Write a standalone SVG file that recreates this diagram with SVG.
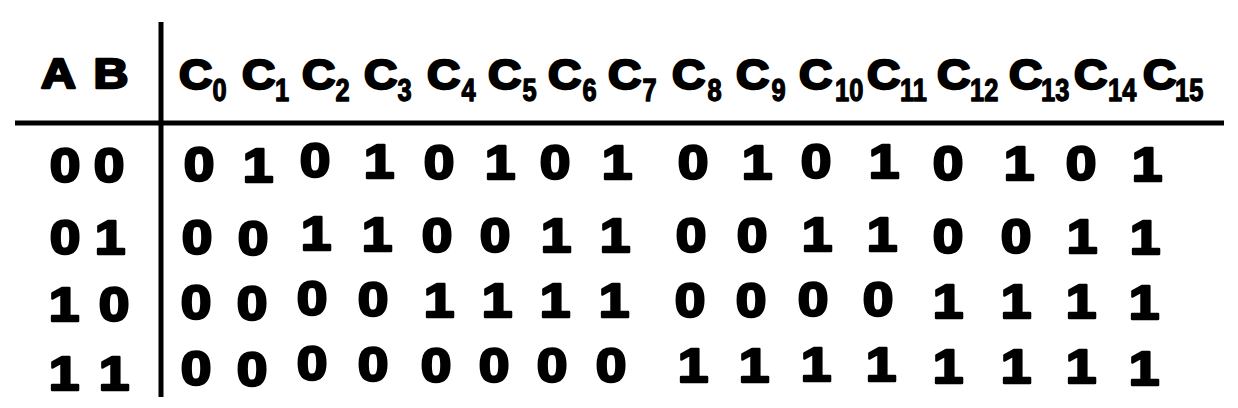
<svg xmlns="http://www.w3.org/2000/svg" width="1238" height="408" viewBox="0 0 1238 408">
<style>
text{font-family:"Liberation Sans",Arial,sans-serif;font-weight:bold;fill:#000;stroke:#000;stroke-linejoin:round}
.big{font-size:42px;stroke-width:2.4}
.sub{font-size:31px;stroke-width:1.3}
.d{font-size:48px;stroke-width:2.4;text-anchor:middle}
.rule{stroke:#000;stroke-width:5;fill:none}
</style>
<rect width="1238" height="408" fill="#fff"/>
<g id="lines">
<line class="rule" x1="161" y1="22" x2="161" y2="397"/>
<line class="rule" x1="15" y1="123" x2="1224" y2="123"/>
</g>
<g id="header">
<text class="big" transform="translate(41,88) scale(1.15,1)">A</text>
<text class="big" transform="translate(93.6,88) scale(1.15,1)">B</text>
<text class="big" transform="translate(179,88.5) scale(1.1,1)">C</text><text class="sub" transform="translate(212.5,101) scale(0.82,1)">0</text>
<text class="big" transform="translate(242,88.5) scale(1.1,1)">C</text><text class="sub" transform="translate(275,101) scale(0.82,1)">1</text>
<text class="big" transform="translate(302,88.5) scale(1.1,1)">C</text><text class="sub" transform="translate(335.5,101) scale(0.82,1)">2</text>
<text class="big" transform="translate(364,88.5) scale(1.1,1)">C</text><text class="sub" transform="translate(397.5,101) scale(0.82,1)">3</text>
<text class="big" transform="translate(427,88.5) scale(1.1,1)">C</text><text class="sub" transform="translate(461.5,101) scale(0.82,1)">4</text>
<text class="big" transform="translate(488,88.5) scale(1.1,1)">C</text><text class="sub" transform="translate(522.5,101) scale(0.82,1)">5</text>
<text class="big" transform="translate(548,88.5) scale(1.1,1)">C</text><text class="sub" transform="translate(582.5,101) scale(0.82,1)">6</text>
<text class="big" transform="translate(608,88.5) scale(1.1,1)">C</text><text class="sub" transform="translate(642.5,101) scale(0.82,1)">7</text>
<text class="big" transform="translate(672,88.5) scale(1.1,1)">C</text><text class="sub" transform="translate(707.5,101) scale(0.82,1)">8</text>
<text class="big" transform="translate(736,88.5) scale(1.1,1)">C</text><text class="sub" transform="translate(771.5,101) scale(0.82,1)">9</text>
<text class="big" transform="translate(799,88.5) scale(1.1,1)">C</text><text class="sub" transform="translate(835,101) scale(0.82,1)">10</text>
<text class="big" transform="translate(867,88.5) scale(1.1,1)">C</text><text class="sub" transform="translate(900,101) scale(0.82,1)">11</text>
<text class="big" transform="translate(937,88.5) scale(1.1,1)">C</text><text class="sub" transform="translate(970,101) scale(0.82,1)">12</text>
<text class="big" transform="translate(1009,88.5) scale(1.1,1)">C</text><text class="sub" transform="translate(1041,101) scale(0.82,1)">13</text>
<text class="big" transform="translate(1074,88.5) scale(1.1,1)">C</text><text class="sub" transform="translate(1108,101) scale(0.82,1)">14</text>
<text class="big" transform="translate(1143,88.5) scale(1.1,1)">C</text><text class="sub" transform="translate(1175,101) scale(0.82,1)">15</text>
</g>
<g id="row-00">
<text class="d" transform="translate(65,181.5) scale(1.15,1)">0</text>
<text class="d" transform="translate(109,181.5) scale(1.15,1)">0</text>
<text class="d" transform="translate(199,181) scale(1.15,1)">0</text>
<text class="d" transform="translate(258,182) scale(1.15,1)">1</text>
<text class="d" transform="translate(315,177) scale(1.15,1)">0</text>
<text class="d" transform="translate(379,178) scale(1.15,1)">1</text>
<text class="d" transform="translate(439,179) scale(1.15,1)">0</text>
<text class="d" transform="translate(500,179) scale(1.15,1)">1</text>
<text class="d" transform="translate(555,179) scale(1.15,1)">0</text>
<text class="d" transform="translate(617,179) scale(1.15,1)">1</text>
<text class="d" transform="translate(693,179) scale(1.15,1)">0</text>
<text class="d" transform="translate(757,179) scale(1.15,1)">1</text>
<text class="d" transform="translate(816,178) scale(1.15,1)">0</text>
<text class="d" transform="translate(884,178) scale(1.15,1)">1</text>
<text class="d" transform="translate(948,180) scale(1.15,1)">0</text>
<text class="d" transform="translate(1019,180) scale(1.15,1)">1</text>
<text class="d" transform="translate(1081,180) scale(1.15,1)">0</text>
<text class="d" transform="translate(1147,181) scale(1.15,1)">1</text>
</g>
<g id="row-01">
<text class="d" transform="translate(65,253.5) scale(1.15,1)">0</text>
<text class="d" transform="translate(110,253.5) scale(1.15,1)">1</text>
<text class="d" transform="translate(197,254) scale(1.15,1)">0</text>
<text class="d" transform="translate(253,255) scale(1.15,1)">0</text>
<text class="d" transform="translate(316,250) scale(1.15,1)">1</text>
<text class="d" transform="translate(377,251) scale(1.15,1)">1</text>
<text class="d" transform="translate(437,252) scale(1.15,1)">0</text>
<text class="d" transform="translate(495,252) scale(1.15,1)">0</text>
<text class="d" transform="translate(556,252) scale(1.15,1)">1</text>
<text class="d" transform="translate(615,252) scale(1.15,1)">1</text>
<text class="d" transform="translate(691,252) scale(1.15,1)">0</text>
<text class="d" transform="translate(752,252) scale(1.15,1)">0</text>
<text class="d" transform="translate(817,251) scale(1.15,1)">1</text>
<text class="d" transform="translate(882,251) scale(1.15,1)">1</text>
<text class="d" transform="translate(948,253) scale(1.15,1)">0</text>
<text class="d" transform="translate(1016,253) scale(1.15,1)">0</text>
<text class="d" transform="translate(1082,253) scale(1.15,1)">1</text>
<text class="d" transform="translate(1145,254) scale(1.15,1)">1</text>
</g>
<g id="row-10">
<text class="d" transform="translate(64,320.5) scale(1.15,1)">1</text>
<text class="d" transform="translate(114,320.5) scale(1.15,1)">0</text>
<text class="d" transform="translate(196,319) scale(1.15,1)">0</text>
<text class="d" transform="translate(252,320) scale(1.15,1)">0</text>
<text class="d" transform="translate(312,315) scale(1.15,1)">0</text>
<text class="d" transform="translate(373,316) scale(1.15,1)">0</text>
<text class="d" transform="translate(439,317) scale(1.15,1)">1</text>
<text class="d" transform="translate(497,317) scale(1.15,1)">1</text>
<text class="d" transform="translate(555,317) scale(1.15,1)">1</text>
<text class="d" transform="translate(614,317) scale(1.15,1)">1</text>
<text class="d" transform="translate(690,317) scale(1.15,1)">0</text>
<text class="d" transform="translate(751,317) scale(1.15,1)">0</text>
<text class="d" transform="translate(813,316) scale(1.15,1)">0</text>
<text class="d" transform="translate(878,316) scale(1.15,1)">0</text>
<text class="d" transform="translate(948,318) scale(1.15,1)">1</text>
<text class="d" transform="translate(1016,318) scale(1.15,1)">1</text>
<text class="d" transform="translate(1081,318) scale(1.15,1)">1</text>
<text class="d" transform="translate(1144,319) scale(1.15,1)">1</text>
</g>
<g id="row-11">
<text class="d" transform="translate(64,390) scale(1.15,1)">1</text>
<text class="d" transform="translate(114,390) scale(1.15,1)">1</text>
<text class="d" transform="translate(196,385) scale(1.15,1)">0</text>
<text class="d" transform="translate(252,386) scale(1.15,1)">0</text>
<text class="d" transform="translate(312,380) scale(1.15,1)">0</text>
<text class="d" transform="translate(373,381) scale(1.15,1)">0</text>
<text class="d" transform="translate(436,382) scale(1.15,1)">0</text>
<text class="d" transform="translate(494,382) scale(1.15,1)">0</text>
<text class="d" transform="translate(552,382) scale(1.15,1)">0</text>
<text class="d" transform="translate(611,382) scale(1.15,1)">0</text>
<text class="d" transform="translate(693,382) scale(1.15,1)">1</text>
<text class="d" transform="translate(754,382) scale(1.15,1)">1</text>
<text class="d" transform="translate(816,381) scale(1.15,1)">1</text>
<text class="d" transform="translate(881,381) scale(1.15,1)">1</text>
<text class="d" transform="translate(948,383) scale(1.15,1)">1</text>
<text class="d" transform="translate(1016,383) scale(1.15,1)">1</text>
<text class="d" transform="translate(1081,383) scale(1.15,1)">1</text>
<text class="d" transform="translate(1144,385) scale(1.15,1)">1</text>
</g>
</svg>
